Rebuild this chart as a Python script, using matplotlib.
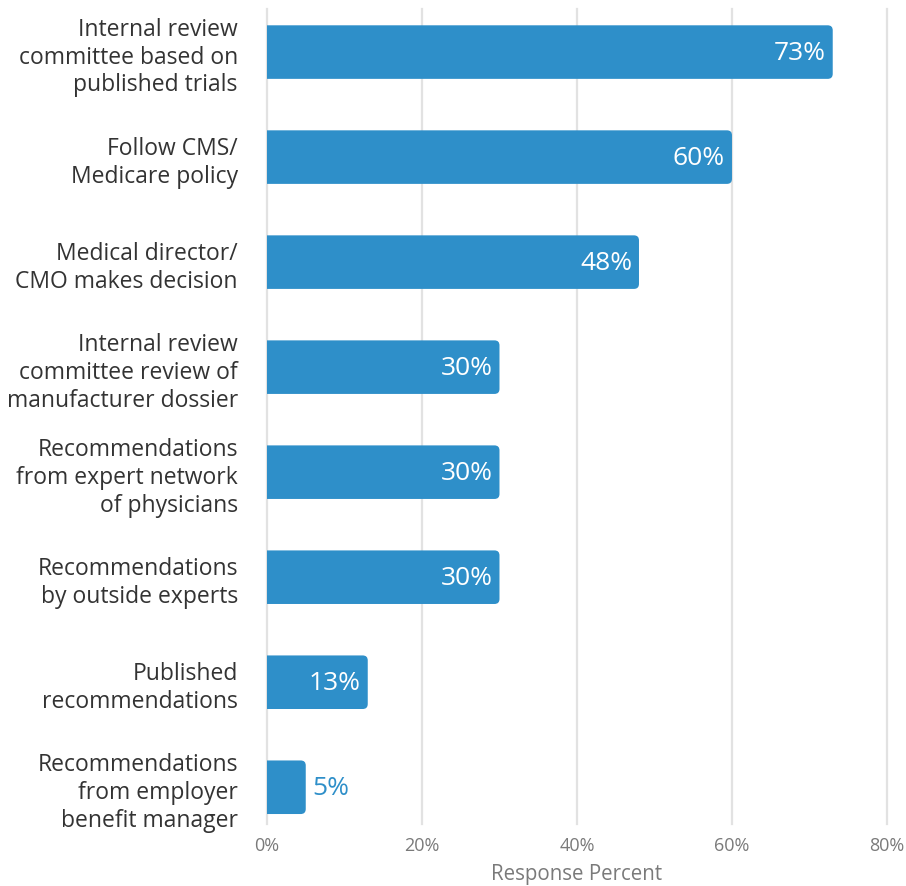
import matplotlib
matplotlib.use("Agg")
import matplotlib.pyplot as plt
from matplotlib.patches import FancyBboxPatch

categories = [
    "Internal review\ncommittee based on\npublished trials",
    "Follow CMS/\nMedicare policy",
    "Medical director/\nCMO makes decision",
    "Internal review\ncommittee review of\nmanufacturer dossier",
    "Recommendations\nfrom expert network\nof physicians",
    "Recommendations\nby outside experts",
    "Published\nrecommendations",
    "Recommendations\nfrom employer\nbenefit manager",
]
values = [73, 60, 48, 30, 30, 30, 13, 5]
x_ticks = [0, 20, 40, 60, 80]
x_tick_labels = ["0%", "20%", "40%", "60%", "80%"]

BAR_COLOR = "#2E8FC9"
FONT = ["Open Sans", "DejaVu Sans"]
plt.rcParams["font.family"] = FONT

fig = plt.figure(figsize=(9.06, 8.87), dpi=100)
ax = fig.add_axes([0.2947, 0.0699, 0.979 - 0.2947, 0.9887 - 0.0699])

ax.set_xlim(0, 80)
ax.set_ylim(7.35, -0.41)

bar_h = 0.51
# pixel scale factors for rounded corners
ax_w_px = (0.979 - 0.2947) * 906
ax_h_px = (0.9887 - 0.0699) * 887
px_per_x = ax_w_px / 80
px_per_y = ax_h_px / (7.35 + 0.41)
r_px = 5
r_x = r_px / px_per_x
aspect = (r_px / px_per_y) / r_x

for i, v in enumerate(values):
    patch = FancyBboxPatch(
        (-2, i - bar_h / 2), v + 2, bar_h,
        boxstyle=f"round,pad=0,rounding_size={r_x}",
        mutation_aspect=aspect,
        facecolor=BAR_COLOR, edgecolor="none", zorder=3, clip_on=True,
    )
    ax.add_patch(patch)
    label = f"{v}%"
    if v >= 10:
        ax.text(v - 0.9, i, label, ha="right", va="center", color="white",
                fontsize=19, zorder=4)
    else:
        ax.text(v + 0.9, i, label, ha="left", va="center", color=BAR_COLOR,
                fontsize=19, zorder=4)

ax.set_yticks(range(len(categories)))
ax.set_yticklabels(categories, fontsize=16.5, color="#333333", linespacing=1.2)
ax.set_xticks(x_ticks)
ax.set_xticklabels(x_tick_labels, fontsize=13, color="#7a7a7a")
ax.tick_params(axis="y", length=0, pad=21)
ax.tick_params(axis="x", length=0, pad=9)
ax.set_xlabel("Response Percent", fontsize=14.8, color="#7a7a7a", labelpad=6)

ax.grid(axis="x", color="#e2e2e2", linewidth=1.6, zorder=0)
ax.set_axisbelow(True)
for t in ax.xaxis.get_major_ticks():
    t.gridline.set_clip_on(False)
for s in ax.spines.values():
    s.set_visible(False)

fig.savefig("out.png", dpi=100)
